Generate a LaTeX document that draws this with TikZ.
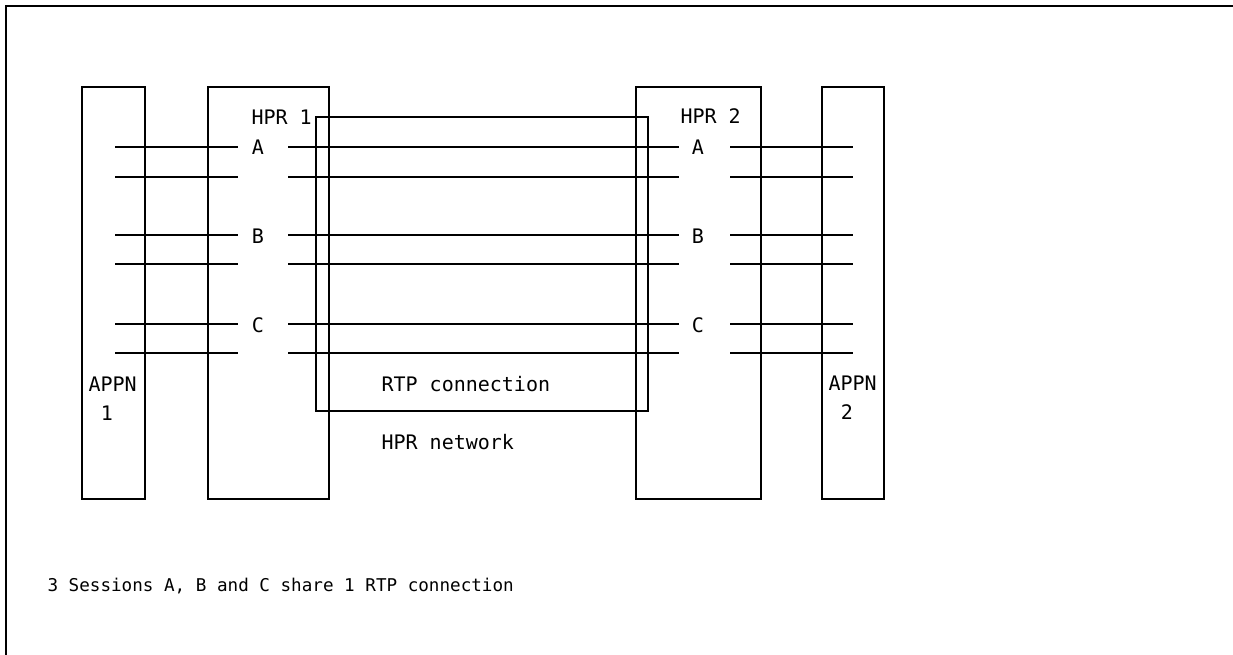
\documentclass[tikz,border=0pt]{standalone}
\usepackage{fontspec}
\setmonofont{DejaVu Sans Mono}
\begin{document}
\begin{tikzpicture}[x=1pt,y=-1pt,line width=1.1pt,
  box/.style={draw,inner sep=0pt,outer sep=0pt},
  lbl/.style={inner sep=0pt,anchor=base west,font=\ttfamily\fontsize{20}{24}\selectfont},
  clbl/.style={inner sep=0pt,anchor=base,font=\ttfamily\fontsize{20}{24}\selectfont},
  note/.style={inner sep=0pt,anchor=base west,font=\ttfamily\fontsize{17.6}{21}\selectfont}]
\useasboundingbox (0,0) rectangle (1233,655);
% frame
\coordinate (fTR) at (1233,6);
\coordinate (fTL) at (6,6);
\coordinate (fBL) at (6,655);
\draw (fTR) -- (fTL) -- (fBL);
% boxes
\node[box,minimum width=63pt,minimum height=412pt] (appn1) at (113.5,293) {};
\node[box,minimum width=121pt,minimum height=412pt] (hpr1) at (268.5,293) {};
\node[box,minimum width=332pt,minimum height=294pt] (rtp) at (482,264) {};
\node[box,minimum width=125pt,minimum height=412pt] (hpr2) at (698.5,293) {};
\node[box,minimum width=62pt,minimum height=412pt] (appn2) at (853,293) {};
% session lines
\foreach \n/\y in {a1/147,a2/177,b1/235,b2/264,c1/324,c2/353}{
  \coordinate (\n-1) at (115,\y);
  \coordinate (\n-2) at (238,\y);
  \coordinate (\n-3) at (288,\y);
  \coordinate (\n-4) at (679,\y);
  \coordinate (\n-5) at (730,\y);
  \coordinate (\n-6) at (853,\y);
  \draw (\n-1) -- (\n-2);
  \draw (\n-3) -- (\n-4);
  \draw (\n-5) -- (\n-6);
}
% labels
\node[lbl] (thpr1) at (251,125) {HPR 1};
\node[lbl] (thpr2) at (680,124) {HPR 2};
\node[clbl] (la) at (258,155) {A};
\node[clbl] (lb) at (258,243) {B};
\node[clbl] (lc) at (258,332) {C};
\node[clbl] (ra) at (698,155) {A};
\node[clbl] (rb) at (698,243) {B};
\node[clbl] (rc) at (698,332) {C};
\node[lbl] (tappn1) at (88,391) {APPN};
\node[clbl] (tone) at (107,420) {1};
\node[lbl] (tappn2) at (828,390) {APPN};
\node[clbl] (ttwo) at (847,419) {2};
\node[lbl] (trtp) at (381,391) {RTP connection};
\node[lbl] (tnet) at (381,449) {HPR network};
\node[note] (tnote) at (47,591) {3 Sessions A, B and C share 1 RTP connection};
\end{tikzpicture}
\end{document}
